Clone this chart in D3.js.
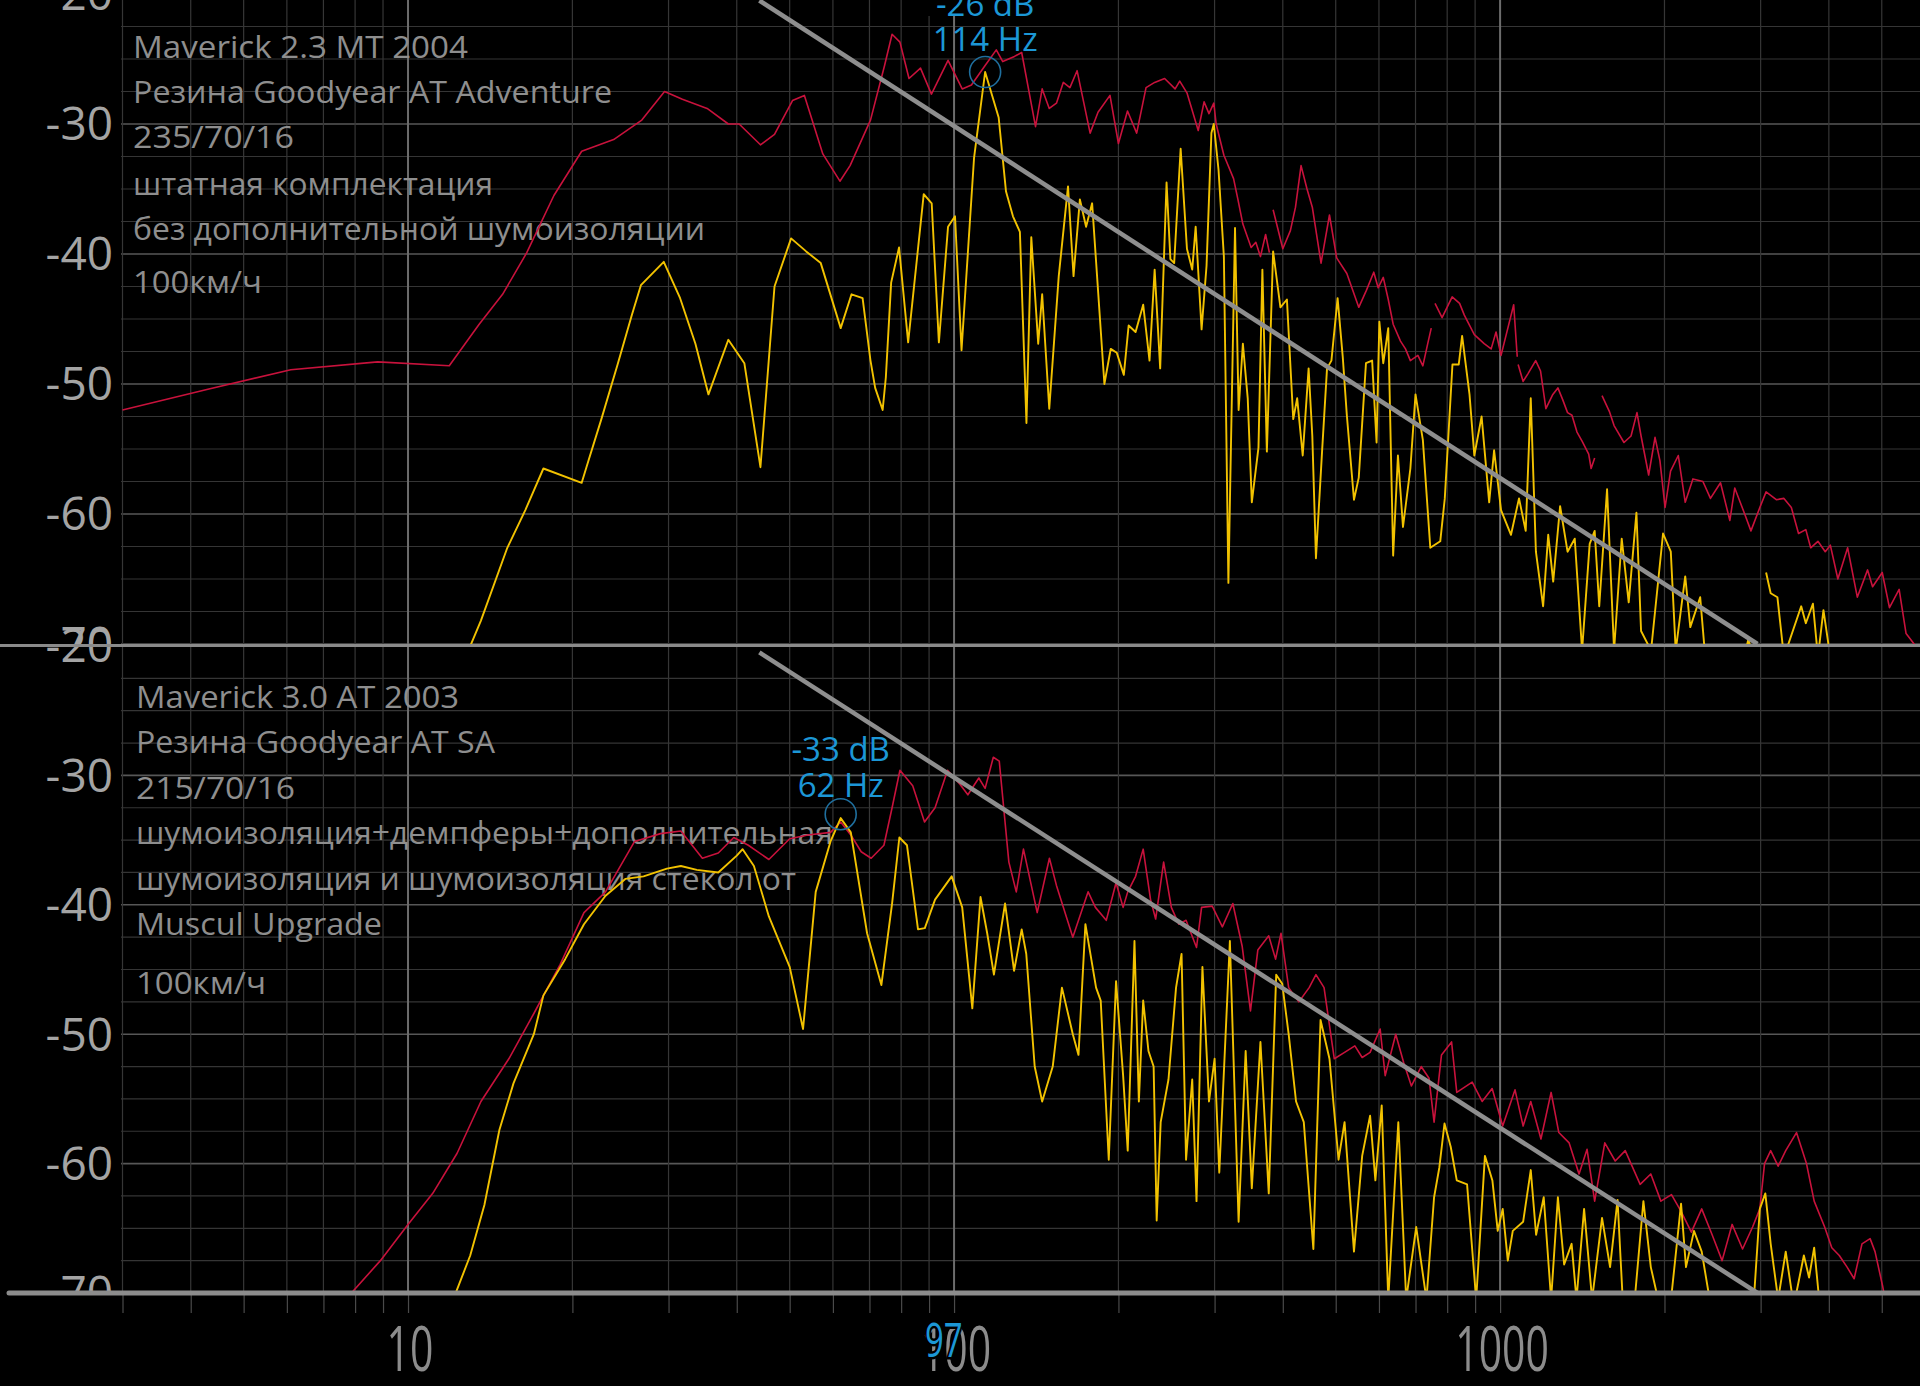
<!DOCTYPE html>
<html><head><meta charset="utf-8">
<script src="https://cdn.jsdelivr.net/npm/d3@7/dist/d3.min.js"></script>
<style>html,body{margin:0;padding:0;background:#000}svg{display:block}</style>
</head><body>
<svg id="chart" width="1920" height="1386"></svg>
<script>
// ---------- data ----------
const freqGrid = [3,4,5,6,7,8,9,10,20,30,40,50,60,70,80,90,100,200,300,400,500,600,700,800,900,1000,2000,3000,4000,5000];
const freqMajor = [10,100,1000];
const freqLabels = ["10","100","1000"];
const dbLabels = [-20,-30,-40,-50,-60,-70];
const dbGridStep = 2.5;
const cursorLabel = "97";

const topTitle = ["Maverick 2.3 MT 2004","Резина Goodyear AT Adventure","235/70/16","штатная комплектация","без дополнительной шумоизоляции","100км/ч"];
const bottomTitle = ["Maverick 3.0 AT 2003","Резина Goodyear AT SA","215/70/16","шумоизоляция+демпферы+дополнительная","шумоизоляция и шумоизоляция стекол от","Muscul Upgrade","100км/ч"];

const topPeak = {hz:114, db:-26, label1:"-26 dB", label2:"114 Hz"};
const bottomPeak = {hz:62, db:-33, label1:"-33 dB", label2:"62 Hz"};
const trendLine = [[44,-20.5],[2960,-70]];

const topRed = [[3,-52],[4.3,-50.4],[6.1,-48.9],[8.8,-48.3],[11.9,-48.6],[13.5,-45.4],[14.9,-43.1],[16.5,-39.9],[18.5,-35.5],[20.8,-32.1],[23.8,-31.2],[26.8,-29.7],[29.5,-27.5],[31.8,-28.1],[35.3,-28.8],[38.6,-30],[40.4,-30],[44.2,-31.6],[46.9,-30.8],[50.6,-28.2],[53.2,-27.8],[57.5,-32.3],[61.8,-34.4],[64.5,-33.2],[70.3,-29.7],[74.6,-25.5],[77,-23.1],[79.6,-23.7],[82.7,-26.5],[86.8,-25.7],[90.9,-27.7],[97.5,-25.1],[103.5,-27.3],[107.6,-27],[114,-25.5],[119.5,-24.3],[122.8,-25.2],[129,-24.8],[133,-24.5],[141,-30.2],[145,-27.3],[149.4,-28.8],[154,-28.4],[158.5,-26.8],[163,-27.2],[168,-25.9],[177.5,-30.7],[183.5,-29.1],[193,-27.8],[200,-31.5],[207.8,-29],[216,-30.7],[224.7,-27.2],[233,-26.8],[243,-26.5],[254,-27.3],[259,-26.7],[267,-27.6],[280,-30.5],[287,-28.3],[293,-29.2],[299,-28.4],[302,-30],[312,-32.4],[325,-34.2],[331,-35.8],[338,-37.7],[350,-39.5],[357,-39.1],[364,-40.2],[372,-38.5],[378,-39.9],[381,null],[384,-36.6],[400,-39.6],[413,-38.2],[422,-36.4],[432,-33.2],[443,-35],[453,-36.4],[470,-40.7],[487,-37],[502,-40.3],[524,-41.5],[551,-44.1],[569,-42.8],[587,-41.4],[598,-42.6],[611,-41.8],[624,-43.5],[637,-45.4],[657,-46.7],[671,-47.3],[685,-48.2],[707,-47.8],[722,-48.6],[737,-46.9],[748,-45.7],[754,null],[760,-43.8],[783,-44.9],[817,-43.3],[843,-43.8],[860,-44.7],[897,-46.2],[935,-46.9],[963,-47.3],[983,-46],[1004,-47.8],[1059,-43.9],[1075,-47.9],[1077,null],[1079,-48.5],[1102,-49.8],[1125,-49.2],[1162,-48.2],[1186,-49],[1213,-51.9],[1249,-50.8],[1276,-50.3],[1302,-51.2],[1329,-52.2],[1354,-52.4],[1383,-53.7],[1413,-54.4],[1453,-55.4],[1468,-56.5],[1490,-55.7],[1510,null],[1537,-50.9],[1585,-52.1],[1617,-53.2],[1686,-54.5],[1737,-54],[1781,-52.2],[1812,-54],[1871,-57],[1922,-54.1],[1962,-55.9],[2005,-59.5],[2052,-56.7],[2120,-55.5],[2183,-59.1],[2255,-57.3],[2352,-57.5],[2428,-58.8],[2533,-57.6],[2635,-60.5],[2690,-58],[2805,-60],[2880,-61.3],[2990,-59.5],[3070,-58.3],[3205,-58.9],[3310,-58.8],[3415,-59.5],[3520,-61.5],[3630,-61.2],[3705,-62.6],[3820,-62.1],[3940,-62.9],[4025,-62.4],[4155,-65],[4330,-62.6],[4510,-66.4],[4710,-64.3],[4810,-65.6],[5010,-64.5],[5165,-67.2],[5380,-65.8],[5540,-69.2],[5780,-70.2],[6000,-71]];

const topYellow = [[12.9,-70.5],[13.6,-68.2],[15.2,-62.6],[16.4,-59.7],[17.7,-56.5],[20.8,-57.6],[21.4,-55.9],[22.6,-52.7],[24.2,-48.5],[25.7,-44.7],[26.7,-42.4],[29.4,-40.6],[31.5,-43.4],[33.6,-46.9],[35.5,-50.8],[38.6,-46.6],[41.3,-48.4],[44.2,-56.4],[46.9,-42.5],[50.3,-38.8],[53.6,-39.8],[57,-40.7],[62,-45.7],[64.9,-43.1],[68,-43.4],[70.3,-48.2],[71.7,-50.3],[74,-52],[75,-49.5],[76.7,-42.2],[79.3,-39.5],[82.4,-46.8],[88,-35.4],[91,-36.1],[93.8,-46.8],[97.5,-37.9],[100.4,-37.1],[103.2,-47.4],[108.8,-32.6],[114,-26],[120.7,-29.5],[124.5,-35.2],[128.2,-37.1],[132,-38.3],[135.7,-53],[138.5,-38.7],[142.6,-46.9],[145,-43.1],[149.4,-51.9],[155.5,-41.7],[161.7,-34.8],[165.5,-41.7],[170,-35.8],[174.5,-37.9],[179,-36.1],[188.5,-50],[193.6,-47.3],[198.6,-47.6],[204.6,-49.3],[208.8,-45.5],[215,-46],[222,-43.9],[228,-48.2],[233,-41.2],[238.5,-48.8],[245,-34.5],[249,-40.4],[253,-40.7],[260,-31.9],[267,-39.6],[273,-41.2],[277,-37.9],[284,-45.8],[290,-40.9],[296,-30.7],[299,-30],[305,-33.5],[312,-40.2],[318,-65.3],[327,-38],[332,-52],[338,-46.9],[345,-51.1],[351,-59.1],[361,-54.9],[367,-41.2],[374,-55.2],[384,-39.8],[396,-44.1],[407,-43.5],[418,-52.7],[425,-51.1],[435,-55.5],[446,-48.8],[453,-54],[460,-63.4],[472,-55.2],[482,-48.8],[491,-48.2],[504,-43.4],[515,-47.9],[524,-52.4],[540,-58.9],[551,-57.2],[568,-48.4],[583,-48.2],[594,-54.5],[601,-45.2],[611,-48.4],[624,-45.7],[637,-63.2],[650,-55.5],[664,-61],[685,-56.5],[700,-50.8],[722,-54.3],[745,-62.6],[777,-62.1],[792,-58.8],[818,-48.5],[840,-48.5],[852,-46.3],[879,-50.8],[897,-55.5],[925,-52.5],[955,-59.1],[975,-55.1],[1004,-59.7],[1047,-61.6],[1083,-58.8],[1114,-61.3],[1138,-51.1],[1163,-62.9],[1199,-67.1],[1225,-61.6],[1251,-65.2],[1288,-59.4],[1329,-62.9],[1370,-61.9],[1413,-70.5],[1459,-62.3],[1490,-61.3],[1519,-67.1],[1570,-58.1],[1617,-70.5],[1670,-61.9],[1720,-66.8],[1777,-59.9],[1812,-69],[1890,-70.5],[1988,-61.5],[2054,-62.9],[2097,-70.5],[2183,-64.8],[2230,-68.7],[2325,-66.4],[2375,-71],[2800,-71],[2850,-69.6],[2900,-71],[3000,null],[3070,-64.5],[3130,-66.1],[3220,-66.4],[3310,-71],[3560,-67.1],[3630,-68.4],[3740,-66.9],[3820,-71],[3910,-67.4],[4025,-71]];

const bottomRed = [[7.2,-71.5],[7.8,-70.2],[8.9,-67.5],[10,-64.7],[11.1,-62.3],[12.3,-59.2],[13.6,-55.2],[15.3,-51.9],[17,-48.4],[19,-44.6],[21,-40.6],[23,-39],[26,-35.1],[29,-34.5],[31.6,-34.3],[34.6,-36.4],[37,-36],[39.5,-34.8],[42,-35.4],[45.8,-36.5],[50,-34.9],[54,-34.6],[59.4,-34.4],[62,-33.6],[64.7,-34.6],[67.6,-35.9],[70.5,-36.4],[74.4,-35.4],[77,-32.5],[79.6,-29.6],[84,-30.8],[88.3,-33.6],[92.3,-32.5],[97.3,-29.6],[102.6,-30.7],[106,-31.5],[111,-30.2],[114,-31],[118,-28.6],[121,-28.9],[126,-36.7],[130,-39],[134,-35.7],[142,-40.6],[149.5,-36.4],[154,-38.5],[165,-42.5],[176,-39],[181.5,-40.2],[190,-41.2],[198,-38.3],[204,-40.2],[208,-39],[215,-37.8],[222,-35.7],[229,-39.6],[234,-41.1],[242,-36.7],[250,-40.2],[258,-41.5],[266,-41.2],[278,-43.3],[284,-40.2],[297,-40.1],[310,-41.7],[324,-39.9],[337,-43.2],[349,-48.2],[360,-43.5],[377,-42.4],[388,-44.2],[397,-42.2],[410,-46.4],[428,-47.5],[447,-46.4],[460,-45.4],[476,-46.4],[497,-51.9],[519,-51.4],[542,-50.9],[559,-51.8],[578,-51.4],[603,-49.6],[616,-53.2],[644,-50],[666,-52.2],[688,-54],[717,-52.5],[741,-53.4],[757,-56.8],[781,-51.6],[815,-50.6],[833,-54.5],[889,-53.7],[927,-55.2],[967,-54.2],[1011,-57.1],[1065,-54.3],[1102,-57.1],[1138,-55.2],[1188,-58.1],[1240,-54.5],[1281,-57.6],[1338,-58.4],[1395,-60.8],[1443,-58.9],[1490,-62.9],[1555,-58.4],[1625,-59.8],[1695,-59],[1805,-61.6],[1888,-60.8],[1970,-62.9],[2060,-62.4],[2145,-63.7],[2240,-65.3],[2340,-63.5],[2445,-65.5],[2550,-67.5],[2660,-64.7],[2780,-66.6],[2900,-64.9],[2990,-63.5],[3050,-60],[3130,-59],[3230,-60.2],[3335,-59],[3490,-57.6],[3640,-60],[3760,-62.9],[3930,-64.9],[4050,-66.5],[4180,-67.1],[4320,-68],[4450,-68.9],[4600,-66.2],[4760,-65.8],[4860,-66.8],[5020,-69.5],[5100,-71]];

const bottomYellow = [[12.1,-70.5],[13,-67.1],[13.8,-63.2],[14.7,-57.4],[15.6,-53.8],[17,-50],[17.7,-47],[19.4,-44.2],[21,-41.5],[23,-39.3],[25,-38],[27,-37.8],[29.8,-37.2],[31.6,-37],[33.8,-37.3],[37,-37.5],[40,-36.2],[41,-35.7],[43,-37],[45.8,-40.9],[50,-44.8],[52.9,-49.6],[55.8,-39],[59.4,-35.1],[62,-33.3],[64.7,-34.4],[69.3,-42.2],[73.6,-46.2],[77,-39.9],[79.4,-34.8],[82,-35.4],[85.9,-41.9],[88.4,-41.8],[92.3,-39.6],[99,-37.8],[103.5,-40.2],[108,-48],[111.8,-39.4],[115,-42.2],[118.3,-45.4],[124,-39.9],[128.8,-45.1],[133,-41.9],[135.6,-43.8],[140.5,-52.5],[145,-55.2],[151.6,-52.5],[157.6,-46.4],[165,-50],[169,-51.6],[174,-41.5],[182,-46.4],[185.6,-47.4],[192,-59.7],[198,-45.9],[204,-53.2],[208,-59],[214,-42.8],[218,-55.2],[222,-47.4],[227,-51.3],[232,-52.5],[235,-64.4],[239,-56.8],[247,-53.5],[255,-46.4],[261,-43.8],[266,-59.7],[273,-53.5],[278,-62.9],[285,-44.8],[293,-55.2],[300,-51.9],[306,-60.7],[320,-42.8],[332,-64.5],[342,-51.3],[351,-61.9],[364,-50.6],[377,-62.3],[389,-45.4],[399,-46.1],[410,-50],[423,-55.2],[437,-56.8],[455,-66.6],[469,-48.9],[487,-51.9],[506,-59.7],[519,-56.8],[540,-66.8],[559,-59.4],[578,-56.3],[591,-61.3],[607,-55.5],[624,-70.5],[651,-56.8],[673,-70.5],[702,-64.9],[733,-70.5],[757,-62.6],[774,-60.3],[791,-56.9],[812,-58.7],[833,-61.3],[870,-61.6],[904,-70.5],[938,-59.4],[968,-61.3],[990,-65.2],[1011,-63.5],[1033,-67.5],[1055,-65.2],[1102,-64.5],[1138,-60.5],[1164,-65.5],[1202,-62.6],[1240,-70.5],[1276,-62.6],[1310,-67.8],[1352,-66.2],[1380,-70.5],[1425,-63.5],[1474,-70.5],[1537,-64.2],[1590,-68],[1641,-62.8],[1677,-70.5],[1760,-71],[1830,-62.9],[1888,-68],[1947,-70.5],[2050,-71],[2145,-63.1],[2190,-68],[2265,-65.2],[2340,-66.8],[2420,-70.5],[2900,-72],[2990,-63.5],[3060,-62.3],[3130,-66.2],[3230,-70.5],[3335,-66.8],[3450,-71],[3600,-67.1],[3680,-68.8],[3760,-66.5],[3850,-71]];

// ---------- scales ----------
const W = 1920, H = 1386;
const svg = d3.select("#chart");
svg.append("rect").attr("width", W).attr("height", H).attr("fill", "#000");

const x = d3.scaleLog().domain([3, 6000]).range([122.5, 1925]);
const panels = [
  {name:"top", y: d3.scaleLinear().domain([-20,-70]).range([-6, 644]), clipY0: 0, clipY1: 645, labelY0: 0, labelY1: 645,
   red: topRed, yellow: topYellow, peak: topPeak, lblOff: [-56, -21], title: topTitle, titleX: 133, titleBase: [58,103,148,195,240,293],
   titleW: [335,479,161,360,572,129]},
  {name:"bot", y: d3.scaleLinear().domain([-20,-70]).range([646, 1293]), clipY0: 646, clipY1: 1293, labelY0: 600, labelY1: 1293,
   red: bottomRed, yellow: bottomYellow, peak: bottomPeak, lblOff: [-53, -17], title: bottomTitle, titleX: 136, titleBase: [708,753,799,844,890,935,994],
   titleW: [323,359,159,697,660,246,130]}
];

const defs = svg.append("defs");
panels.forEach(p => {
  defs.append("clipPath").attr("id", "clip-" + p.name).append("rect")
    .attr("x", 121).attr("y", p.clipY0).attr("width", W).attr("height", p.clipY1 - p.clipY0);
  defs.append("clipPath").attr("id", "lab-" + p.name).append("rect")
    .attr("x", 0).attr("y", p.labelY0).attr("width", 121).attr("height", p.labelY1 - p.labelY0);
});

const dbGrid = d3.range(-20, -70.01, -dbGridStep);
const FONT = "'Open Sans', 'Noto Sans', sans-serif";

panels.forEach(p => {
  const g = svg.append("g");
  const grid = g.append("g").attr("clip-path", `url(#clip-${p.name})`);
  grid.selectAll("line.h").data(dbGrid).join("line")
    .attr("x1", 120).attr("x2", W)
    .attr("y1", d => p.y(d)).attr("y2", d => p.y(d))
    .attr("stroke", d => (d % 10 === 0) ? "#575757" : "#353535")
    .attr("stroke-width", d => (d % 10 === 0) ? 1.6 : 1.2);
  grid.selectAll("line.v").data(freqGrid).join("line")
    .attr("x1", d => x(d)).attr("x2", d => x(d))
    .attr("y1", p.clipY0).attr("y2", p.clipY1)
    .attr("stroke", d => freqMajor.includes(d) ? "#6c6c6c" : "#363636")
    .attr("stroke-width", d => freqMajor.includes(d) ? 2 : 1.2);

  g.append("g").attr("clip-path", `url(#lab-${p.name})`)
    .selectAll("text").data(dbLabels).join("text")
    .attr("x", 113).attr("y", d => p.y(d) + 4)
    .attr("text-anchor", "end").attr("dominant-baseline", "middle")
    .attr("font-family", FONT).attr("font-size", 46)
    .attr("fill", "#a4a4a4")
    .text(d => d);

  g.append("g").selectAll("text").data(p.title).join("text")
    .attr("x", p.titleX).attr("y", (d, i) => p.titleBase[i])
    .attr("font-family", FONT).attr("font-size", 31)
    .attr("fill", "#8e8e8e")
    .attr("textLength", (d, i) => p.titleW[i]).attr("lengthAdjust", "spacingAndGlyphs")
    .text(d => d);

  const line = d3.line().defined(d => d[1] !== null).x(d => x(d[0])).y(d => p.y(d[1]));
  const data = g.append("g").attr("clip-path", `url(#clip-${p.name})`);
  data.append("path").datum(p.red).attr("d", line).attr("fill", "none")
    .attr("stroke", "#c8123c").attr("stroke-width", 1.6).attr("stroke-linejoin", "round");
  data.append("path").datum(p.yellow).attr("d", line).attr("fill", "none")
    .attr("stroke", "#f2c200").attr("stroke-width", 1.9).attr("stroke-linejoin", "round");
  data.append("path").datum(trendLine).attr("d", line).attr("fill", "none")
    .attr("stroke", "#8e8e8e").attr("stroke-width", 4.5);

  const px = x(p.peak.hz), py = p.y(p.peak.db);
  g.append("circle").attr("cx", px).attr("cy", py).attr("r", 15.5)
    .attr("fill", "none").attr("stroke", "#1f6f9e").attr("stroke-width", 1.6);
  const lblG = g.append("g");
  if (p.name === "top") {
    lblG.append("rect").attr("x", px - 58).attr("y", py - 100).attr("width", 116).attr("height", 44).attr("fill", "#000");
  }
  lblG.append("text").attr("x", px).attr("y", py + p.lblOff[0])
    .attr("text-anchor", "middle").attr("font-family", FONT)
    .attr("font-size", 33).attr("fill", "#1c97d6").text(p.peak.label1);
  lblG.append("text").attr("x", px).attr("y", py + p.lblOff[1])
    .attr("text-anchor", "middle").attr("font-family", FONT)
    .attr("font-size", 33).attr("fill", "#1c97d6").text(p.peak.label2);
});

svg.append("line").attr("x1", 0).attr("x2", W).attr("y1", 645.5).attr("y2", 645.5)
  .attr("stroke", "#8a8a8a").attr("stroke-width", 3);

const axisG = svg.append("g").attr("transform", "translate(0,1293)")
  .call(d3.axisBottom(x).tickValues(freqGrid).tickSize(20).tickFormat(""));
axisG.select(".domain").remove();
axisG.selectAll(".tick line").attr("stroke", "#4a4a4a").attr("stroke-width", 1.2);

svg.append("line").attr("x1", 9).attr("x2", W).attr("y1", 1293).attr("y2", 1293)
  .attr("stroke", "#8c8c8c").attr("stroke-width", 5).attr("stroke-linecap", "round");

svg.append("g").selectAll("text").data(freqLabels).join("text")
  .attr("transform", d => `translate(${x(+d) + 2},1371) scale(0.66,1)`)
  .attr("text-anchor", "middle")
  .attr("font-family", FONT).attr("font-size", 62)
  .attr("fill", "#8c8c8c")
  .text(d => d);

svg.append("text")
  .attr("transform", `translate(${x(+cursorLabel) - 3},1357) scale(0.7,1)`)
  .attr("text-anchor", "middle")
  .attr("font-family", FONT).attr("font-size", 47)
  .attr("fill", "#1c97d6").attr("stroke", "#000").attr("stroke-width", 5)
  .attr("paint-order", "stroke")
  .text(cursorLabel);
</script>
</body></html>
